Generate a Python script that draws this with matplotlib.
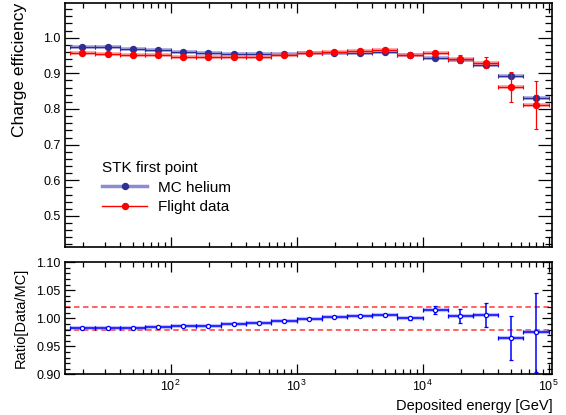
import numpy as np
import matplotlib
matplotlib.use("Agg")
import matplotlib.pyplot as plt
from matplotlib.lines import Line2D
from matplotlib.ticker import MultipleLocator, FormatStrFormatter, LogLocator

plt.rcParams["font.family"] = ["Liberation Sans", "DejaVu Sans"]
plt.rcParams["mathtext.fontset"] = "custom"
plt.rcParams["mathtext.rm"] = "Liberation Sans"
plt.rcParams["mathtext.it"] = "Liberation Sans:italic"

# bin edges in deposited energy [GeV]
bin_edges = [15.85, 25.12, 39.81, 63.10, 100.0, 158.5, 251.2, 398.1, 631.0, 1000.0,
             1585, 2512, 3981, 6310, 10000, 15849, 25119, 39811, 63096, 100000]

# charge efficiency, MC helium
mc_eff = [0.975, 0.973, 0.969, 0.964, 0.959, 0.957, 0.955, 0.954, 0.955, 0.957,
          0.957, 0.958, 0.959, 0.951, 0.944, 0.936, 0.923, 0.892, 0.832]
mc_err = [0.001, 0.001, 0.001, 0.001, 0.001, 0.001, 0.001, 0.001, 0.001, 0.001,
          0.001, 0.001, 0.001, 0.002, 0.002, 0.003, 0.004, 0.005, 0.006]

# charge efficiency, flight data
data_eff = [0.957, 0.955, 0.952, 0.950, 0.947, 0.945, 0.945, 0.946, 0.951, 0.956,
            0.960, 0.963, 0.965, 0.951, 0.958, 0.940, 0.930, 0.862, 0.811]
data_err = [0.001, 0.001, 0.001, 0.001, 0.001, 0.001, 0.002, 0.002, 0.002, 0.002,
            0.002, 0.002, 0.003, 0.003, 0.005, 0.011, 0.016, 0.043, 0.068]

# ratio data / MC
ratio = [0.982, 0.982, 0.982, 0.985, 0.987, 0.987, 0.990, 0.992, 0.996, 0.999,
         1.003, 1.005, 1.006, 1.000, 1.015, 1.004, 1.006, 0.965, 0.975]
ratio_err = [0.001, 0.001, 0.001, 0.001, 0.001, 0.001, 0.001, 0.001, 0.001, 0.001,
             0.001, 0.001, 0.002, 0.003, 0.0075, 0.013, 0.021, 0.040, 0.070]

ratio_band = [0.98, 1.02]

edges = np.array(bin_edges)
centers = np.sqrt(edges[:-1] * edges[1:])
xlo = centers - edges[:-1]
xhi = edges[1:] - centers

MC_DARK = "#2e2e96"
MC_LIGHT = "#8c8cd0"
RED = "#ff0000"
RED_LIGHT = "#ff8080"

fig = plt.figure(figsize=(5.66, 4.15), dpi=100)
ax1 = fig.add_axes([0.1148, 0.404, 0.861, 0.5895])
ax2 = fig.add_axes([0.1148, 0.098, 0.861, 0.270])

# upper panel: efficiencies
ax1.errorbar(centers, mc_eff, xerr=[xlo, xhi], fmt="none", ecolor=MC_LIGHT,
             elinewidth=2.6, alpha=0.8, zorder=2)
ax1.errorbar(centers, mc_eff, xerr=[xlo, xhi], yerr=mc_err, fmt="o", ms=4.3,
             color=MC_DARK, ecolor=MC_DARK, elinewidth=0.9, capsize=1.5,
             capthick=0.8, zorder=3)
ax1.errorbar(centers, data_eff, xerr=[xlo, xhi], fmt="none", ecolor=RED_LIGHT,
             elinewidth=2.6, alpha=0.8, zorder=4)
ax1.errorbar(centers, data_eff, xerr=[xlo, xhi], yerr=data_err, fmt="o", ms=4.3,
             color=RED, ecolor=RED, elinewidth=0.9, capsize=1.5,
             capthick=0.8, zorder=5)

ax1.set_xscale("log")
ax1.set_xlim(14.5, 1.07e5)
ax1.set_ylim(0.412, 1.098)
ax1.yaxis.set_major_locator(MultipleLocator(0.1))
ax1.yaxis.set_minor_locator(MultipleLocator(0.02))
ax1.yaxis.set_major_formatter(FormatStrFormatter("%.1f"))
ax1.tick_params(axis="x", which="both", labelbottom=False)
ax1.set_ylabel("Charge efficiency", fontsize=12.5, loc="top", labelpad=12)

handles = [
    Line2D([], [], color=MC_LIGHT, lw=2.5, marker="o", ms=4.3,
           markerfacecolor=MC_DARK, markeredgecolor=MC_DARK),
    Line2D([], [], color=RED, lw=1.0, marker="o", ms=4.3,
           markerfacecolor=RED, markeredgecolor=RED),
]
leg = ax1.legend(handles, ["MC helium", "Flight data"], title="STK first point",
                 loc="upper left", bbox_to_anchor=(0.047, 0.41), frameon=False,
                 fontsize=11, title_fontsize=11, handlelength=3.0,
                 handletextpad=0.7, labelspacing=0.38)
leg._legend_box.align = "left"

# lower panel: ratio
for yv in ratio_band:
    ax2.axhline(yv, color="#ff5555", lw=1.3, ls=(0, (3, 2)), zorder=1)
ax2.errorbar(centers, ratio, xerr=[xlo, xhi], fmt="none", ecolor="#8080ff",
             elinewidth=3.0, alpha=0.5, zorder=2)
ax2.errorbar(centers, ratio, xerr=[xlo, xhi], yerr=ratio_err, fmt="o", ms=3.0,
             markerfacecolor="white", markeredgecolor="#0000ff", mew=0.9,
             ecolor="#0000ff", elinewidth=1.1, capsize=1.5, capthick=0.9,
             zorder=3)

ax2.set_xscale("log")
ax2.set_xlim(14.5, 1.07e5)
ax2.set_ylim(0.90, 1.10)
ax2.yaxis.set_major_locator(MultipleLocator(0.05))
ax2.yaxis.set_minor_locator(MultipleLocator(0.01))
ax2.yaxis.set_major_formatter(FormatStrFormatter("%.2f"))
ax2.set_ylabel("Ratio[Data/MC]", fontsize=10.5, labelpad=6)
ax2.set_xlabel("Deposited energy [GeV]", fontsize=10.5, loc="right", labelpad=4)

for ax in (ax1, ax2):
    ax.xaxis.set_major_locator(LogLocator(base=10))
    ax.xaxis.set_minor_locator(LogLocator(base=10, subs=np.arange(2, 10)))
    ax.tick_params(which="both", direction="in", top=True, right=True,
                   labelsize=9, width=0.9, pad=3)
    ax.tick_params(axis="x", which="major", length=7)
    ax.tick_params(axis="x", which="minor", length=3.5)
    for sp in ax.spines.values():
        sp.set_linewidth(1.2)
ax1.tick_params(axis="y", which="major", length=10)
ax1.tick_params(axis="y", which="minor", length=5)
ax2.tick_params(axis="y", which="major", length=7)
ax2.tick_params(axis="y", which="minor", length=3.5)

fig.savefig("out.png", dpi=100)
